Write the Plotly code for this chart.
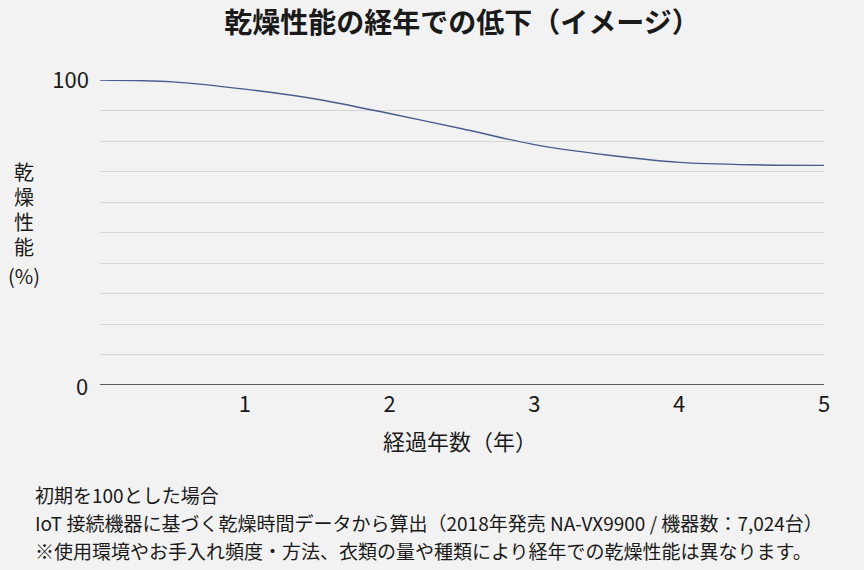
import plotly.graph_objects as go

# years elapsed and drying performance (%)
years = [0, 0.5, 1, 1.5, 2, 2.5, 3, 3.5, 4, 4.5, 5]
performance = [100, 99.4, 97.0, 93.7, 89.0, 84.0, 78.8, 75.4, 73.0, 72.2, 72.0]

x_ticks = [1, 2, 3, 4, 5]
y_labelled = [0, 100]
y_grid = [10, 20, 30, 40, 50, 60, 70, 80, 90, 100]

title_text = "乾燥性能の経年での低下（イメージ）"
x_title = "経過年数（年）"
y_title_parts = ["乾", "燥", "性", "能", "(%)"]
notes = [
    "初期を100とした場合",
    "IoT 接続機器に基づく乾燥時間データから算出（2018年発売 NA-VX9900 / 機器数：7,024台）",
    "※使用環境やお手入れ頻度・方法、衣類の量や種類により経年での乾燥性能は異なります。",
]

FONT = "Noto Sans CJK JP"
BG = "#f2f2f2"
TXT = "#1a1a1a"
W, H = 864, 570
ML, MR, MT, MB = 100, 40, 80, 185
plot_w, plot_h = W - ML - MR, H - MT - MB


def px_x(px):
    return (px - ML) / plot_w


def px_y(py):
    return (H - MB - py) / plot_h


fig = go.Figure()

fig.add_trace(go.Scatter(
    x=years, y=performance, mode="lines",
    line=dict(color="#4a5b8c", width=1.4, shape="spline", smoothing=0.8),
    hoverinfo="skip", showlegend=False))

fig.update_layout(
    width=W, height=H,
    paper_bgcolor=BG, plot_bgcolor=BG,
    margin=dict(l=ML, r=MR, t=MT, b=MB),
    font=dict(family=FONT, color=TXT, size=18),
    showlegend=False,
    title=dict(text="<b>" + title_text + "</b>", xref="paper", x=0.5,
               xanchor="center", y=1 - 23 / H, yanchor="middle",
               font=dict(size=28, color=TXT)),
)

fig.update_xaxes(
    range=[0, 5], tickvals=x_ticks, ticktext=[str(t) for t in x_ticks],
    showgrid=False, zeroline=False, showline=False,
    ticks="", ticklabelstandoff=4, tickfont=dict(size=22), fixedrange=True)

fig.update_yaxes(
    range=[0, 100], tickvals=y_grid,
    ticktext=[str(v) if v in y_labelled else "" for v in y_grid],
    showgrid=True, gridcolor="#d6d6d6", gridwidth=1,
    zeroline=False, showline=False, ticks="", ticklabelstandoff=10,
    tickfont=dict(size=22), fixedrange=True)

# zero label and the dark baseline
fig.add_annotation(x=0, y=0, xref="paper", yref="y", text="0", showarrow=False,
                   xanchor="right", yanchor="middle", xshift=-10,
                   font=dict(size=22, color=TXT))
fig.add_shape(type="line", xref="x", yref="y", x0=0, x1=5, y0=0, y1=0,
              line=dict(color="#262626", width=1.6))

fig.add_annotation(x=px_x(460), y=px_y(440), xref="paper", yref="paper",
                   text=x_title, showarrow=False, xanchor="center",
                   yanchor="middle", font=dict(size=22, color=TXT))

# vertical y-axis title, one glyph per line
for txt, py in zip(y_title_parts, [171, 196, 221, 246, 275]):
    fig.add_annotation(x=px_x(24), y=px_y(py), xref="paper", yref="paper",
                       text=txt, showarrow=False, xanchor="center",
                       yanchor="middle", font=dict(size=20, color=TXT),
                       borderpad=0)

for txt, py in zip(notes, [494, 522, 550]):
    fig.add_annotation(x=px_x(33), y=px_y(py), xref="paper", yref="paper",
                       text=txt, showarrow=False, xanchor="left",
                       yanchor="middle", font=dict(size=19, color=TXT))

fig.write_html("out.html", config={"displayModeBar": False},
               post_script="document.body.style.margin='0';")
